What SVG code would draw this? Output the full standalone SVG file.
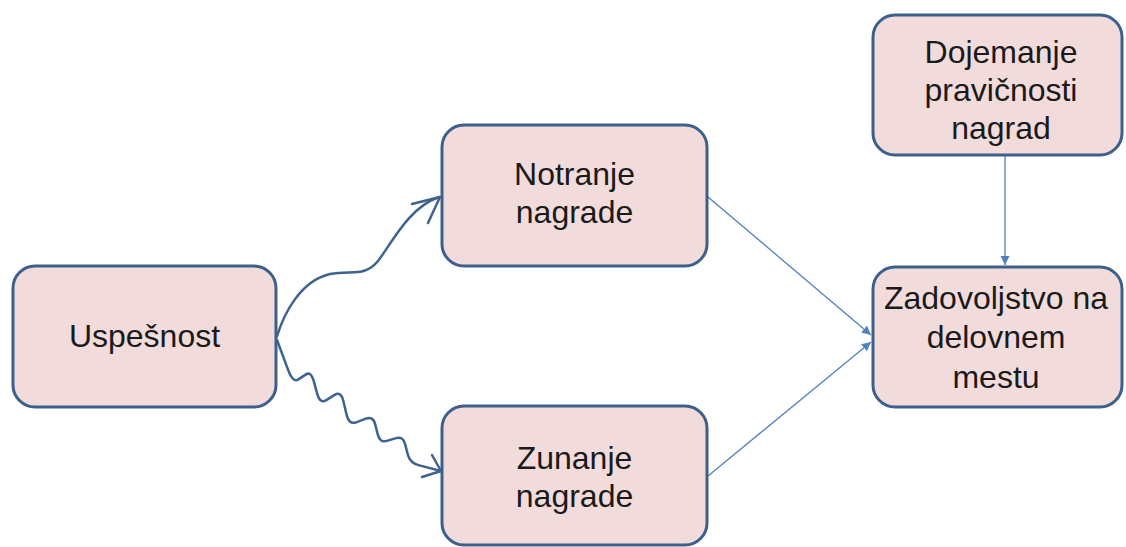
<svg xmlns="http://www.w3.org/2000/svg" width="1126" height="547" viewBox="0 0 1126 547">
  <style>
    .box { fill: #f2dcdb; stroke: #3c5f8c; stroke-width: 3; }
    .label { font-family: "Liberation Sans", Arial, sans-serif; font-size: 32px; fill: #1a1a1a; text-anchor: middle; }
    .thin { fill: none; stroke: #4f81bd; stroke-width: 1.3; }
    .wave { fill: none; stroke: #3f638f; stroke-width: 2.5; stroke-linecap: round; stroke-linejoin: round; }
  </style>
  <defs>
    <marker id="tri" viewBox="0 0 10 10" refX="10" refY="5" markerWidth="7" markerHeight="7" markerUnits="strokeWidth" orient="auto">
      <path d="M0,0 L10,5 L0,10 Z" fill="#4f81bd"/>
    </marker>
  </defs>
  <rect width="1126" height="547" fill="#ffffff"/>

  <g id="connectors">
    <!-- smooth curve to intrinsic rewards -->
    <path class="wave" d="M277,336 C284,314 300,281 330,274 C352,270 365,277 378,261 C392,243 408,208 439,197"/>
    <polyline class="wave" points="412,204 440,197 428,223"/>
    <!-- zig-zag to extrinsic rewards -->
    <path class="wave" d="M277,340 L288.2,370.1 Q293,383 298.4,379.4 L305.6,374.6 Q311,371 313.7,380.9 L317.3,394.1 Q320,404 326.3,400.1 L334.7,394.9 Q341,391 343.4,401.2 L346.6,414.8 Q349,425 356.2,422.3 L365.8,418.7 Q373,416 375.1,424.1 L377.9,434.9 Q380,443 386.9,440.9 L396.1,438.1 Q403,436 405.1,444.1 L407.9,454.9 Q410,463 419.3,465.4 L441,471"/>
    <polyline class="wave" points="432,455 441,471 422,477"/>
    <!-- rewards to satisfaction -->
    <line class="thin" x1="708" y1="197" x2="871" y2="335" marker-end="url(#tri)"/>
    <line class="thin" x1="708" y1="476" x2="871" y2="342" marker-end="url(#tri)"/>
    <!-- fairness to satisfaction -->
    <line class="thin" x1="1005" y1="156" x2="1005" y2="265" marker-end="url(#tri)"/>
  </g>

  <g id="uspesnost">
    <rect class="box" x="13" y="266" width="263" height="141" rx="22"/>
    <text class="label" x="144.5" y="347">Uspešnost</text>
  </g>

  <g id="notranje">
    <rect class="box" x="442" y="125" width="265" height="141" rx="22"/>
    <text class="label" x="574.5" y="185">Notranje</text>
    <text class="label" x="574.5" y="223">nagrade</text>
  </g>

  <g id="zunanje">
    <rect class="box" x="442" y="406" width="265" height="139" rx="22"/>
    <text class="label" x="574.5" y="469">Zunanje</text>
    <text class="label" x="574.5" y="507">nagrade</text>
  </g>

  <g id="dojemanje">
    <rect class="box" x="873" y="15" width="249" height="140" rx="22"/>
    <text class="label" x="1001" y="63">Dojemanje</text>
    <text class="label" x="1001" y="101">pravičnosti</text>
    <text class="label" x="1001" y="139">nagrad</text>
  </g>

  <g id="zadovoljstvo">
    <rect class="box" x="873" y="267" width="249" height="140" rx="22"/>
    <text class="label" x="996" y="309">Zadovoljstvo na</text>
    <text class="label" x="996" y="348">delovnem</text>
    <text class="label" x="996" y="388">mestu</text>
  </g>
</svg>
